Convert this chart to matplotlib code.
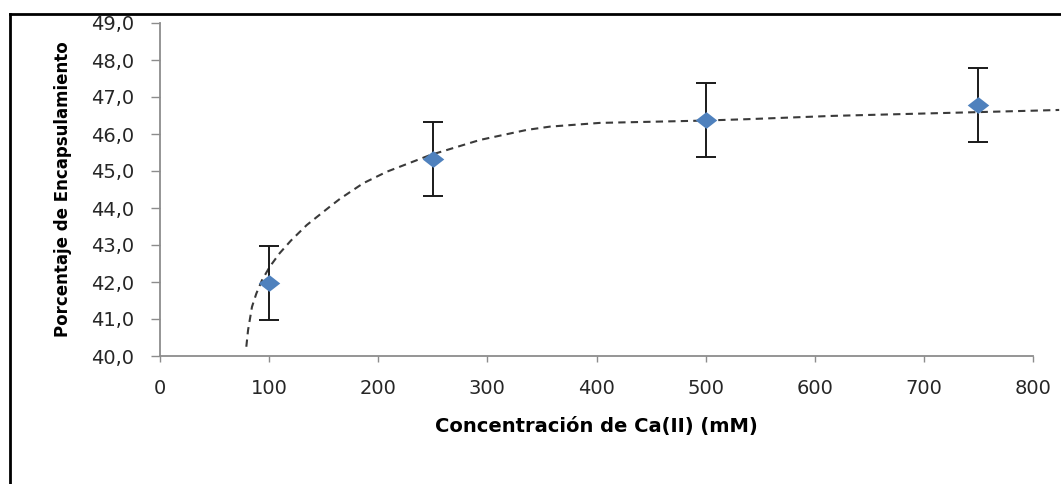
import matplotlib
matplotlib.use("Agg")
import matplotlib.pyplot as plt
from matplotlib.path import Path
from matplotlib.lines import Line2D

# measured data
conc = [100, 250, 500, 750]
encaps = [41.96, 45.33, 46.37, 46.78]
err = [1.0, 1.0, 1.0, 1.0]

# dashed trend line
trend_x = [79.1, 80.7, 84.3, 88.3, 93.5, 100.5, 109.7, 120, 134.5, 155.8, 165,
           186.3, 207.8, 247.5, 293.3, 336, 357.5, 403, 449, 495, 537.7, 617,
           708.5, 800, 824]
trend_y = [40.25, 40.70, 41.33, 41.69, 42.05, 42.41, 42.78, 43.12, 43.54, 44.04, 44.25,
           44.67, 44.98, 45.43, 45.84, 46.11, 46.2, 46.3, 46.33, 46.36, 46.4, 46.49,
           46.56, 46.63, 46.65]

x_ticks = [0, 100, 200, 300, 400, 500, 600, 700, 800]
y_ticks = [40, 41, 42, 43, 44, 45, 46, 47, 48, 49]

W, H = 1061, 484
fig = plt.figure(figsize=(W / 100, H / 100), dpi=100)
ax = fig.add_axes([160 / W, 1 - 356 / H, (1033 - 160) / W, (356 - 23) / H])

# wide diamond marker
diamond = Path([(-1, 0), (0, 0.78), (1, 0), (0, -0.78), (-1, 0)],
               [Path.MOVETO, Path.LINETO, Path.LINETO, Path.LINETO, Path.CLOSEPOLY])

ax.plot(trend_x, trend_y, color="#3a3a3a", lw=1.5, dashes=[3.5, 2.5],
        clip_on=False, zorder=2)
ax.errorbar(conc, encaps, yerr=err, fmt="none", ecolor="#1a1a1a", elinewidth=1.4,
            capsize=7, capthick=1.4, zorder=3)
ax.plot(conc, encaps, ls="none", marker=diamond, markersize=15.5,
        color="#4F81BD", markeredgewidth=0, zorder=4)

ax.set_xlim(0, 800)
ax.set_ylim(40, 49)
ax.set_xticks(x_ticks)
ax.set_yticks(y_ticks)
ax.set_xticklabels([str(v) for v in x_ticks])
ax.set_yticklabels([f"{v:.1f}".replace(".", ",") for v in y_ticks])

for s in ["top", "right"]:
    ax.spines[s].set_visible(False)
for s in ["left", "bottom"]:
    ax.spines[s].set_color("#8c8c8c")
    ax.spines[s].set_linewidth(1.3)

ax.tick_params(axis="y", direction="out", length=6.5, width=1, color="#8c8c8c",
               labelsize=14, labelcolor="#262626", pad=12)
ax.tick_params(axis="x", direction="out", length=4.5, width=1, color="#8c8c8c",
               labelsize=14, labelcolor="#262626", pad=12)

ax.set_xlabel("Concentración de Ca(II) (mM)", fontsize=14, fontweight="bold",
              labelpad=14)
ax.set_ylabel("Porcentaje de Encapsulamiento", fontsize=12, fontweight="bold",
              labelpad=14)

# outer frame (only left and top edges are visible)
fig.add_artist(Line2D([10 / W, 10 / W], [0, 1 - 14 / H], color="black", lw=2))
fig.add_artist(Line2D([10 / W, 1], [1 - 14 / H, 1 - 14 / H], color="black", lw=2))

fig.savefig("out.png", dpi=100)
